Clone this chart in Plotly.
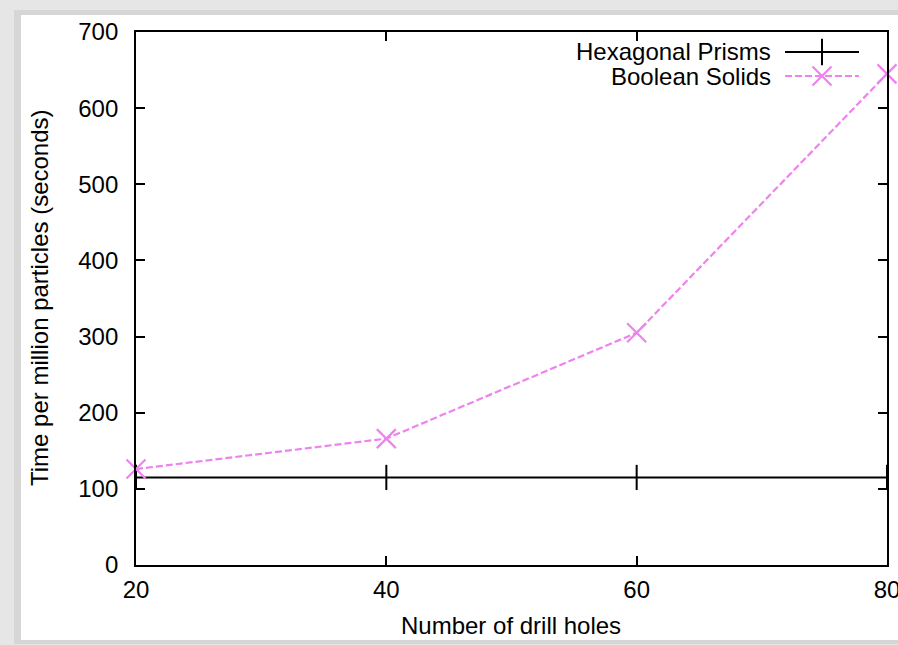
import plotly.graph_objects as go

drill_holes = [20, 40, 60, 80]
hexagonal_prisms = [115, 115, 115, 115]
boolean_solids = [126, 166, 305, 645]
y_ticks = [0, 100, 200, 300, 400, 500, 600, 700]
x_ticks = [20, 40, 60, 80]

W, H = 898, 645
ML, MR, MT, MB = 136, 11, 32, 80
PW, PH = W - ML - MR, H - MT - MB

def px(x):
    return (x - ML) / PW

def py(y):
    return (H - MB - y) / PH

FONT = "Liberation Sans, Arial, Helvetica, sans-serif"
VIOLET = "#ee82ee"
FS = 24

fig = go.Figure()
fig.add_trace(go.Scatter(
    x=drill_holes, y=hexagonal_prisms, mode="lines+markers",
    name="Hexagonal Prisms", cliponaxis=False,
    line=dict(color="black", width=2),
    marker=dict(symbol="line-ns", size=18, line=dict(color="black", width=2)),
))
fig.add_trace(go.Scatter(
    x=drill_holes, y=boolean_solids, mode="lines+markers",
    name="Boolean Solids", cliponaxis=False,
    line=dict(color=VIOLET, width=2.2, dash="7px,3px"),
    marker=dict(symbol="x-thin", size=19, line=dict(color=VIOLET, width=2.2)),
))

# legend samples (gnuplot-style: text left, sample right) on an overlay axis
fig.add_trace(go.Scatter(
    x=[px(785), px(859)], y=[py(52), py(52)], xaxis="x2", yaxis="y2",
    mode="lines", line=dict(color="black", width=2), showlegend=False, hoverinfo="skip"))
fig.add_trace(go.Scatter(
    x=[px(822)], y=[py(52)], xaxis="x2", yaxis="y2", mode="markers",
    marker=dict(symbol="line-ns", size=19, line=dict(color="black", width=2)),
    showlegend=False, hoverinfo="skip"))
fig.add_trace(go.Scatter(
    x=[px(785), px(859)], y=[py(76), py(76)], xaxis="x2", yaxis="y2",
    mode="lines", line=dict(color=VIOLET, width=2.2, dash="7px,3px"), showlegend=False, hoverinfo="skip"))
fig.add_trace(go.Scatter(
    x=[px(822)], y=[py(76)], xaxis="x2", yaxis="y2", mode="markers",
    marker=dict(symbol="x-thin", size=19, line=dict(color=VIOLET, width=2.2)),
    showlegend=False, hoverinfo="skip"))

annotations = [
    dict(text="Hexagonal Prisms", x=px(773), y=py(52), xref="paper", yref="paper",
         xanchor="right", yanchor="middle", showarrow=False, font=dict(size=FS, color="black", family=FONT)),
    dict(text="Boolean Solids", x=px(773), y=py(76), xref="paper", yref="paper",
         xanchor="right", yanchor="middle", showarrow=False, font=dict(size=FS, color="black", family=FONT)),
    dict(text="Number of drill holes", x=px(511), y=py(625), xref="paper", yref="paper",
         xanchor="center", yanchor="middle", showarrow=False, font=dict(size=FS, color="black", family=FONT)),
    dict(text="Time per million particles (seconds)", x=px(39), y=py(298), xref="paper", yref="paper",
         xanchor="center", yanchor="middle", textangle=-90, showarrow=False,
         font=dict(size=FS, color="black", family=FONT)),
]

# window-like frame: grey page with white panel
shapes = [
    dict(type="rect", xref="paper", yref="paper", x0=px(0), x1=px(W + 5), y0=py(0), y1=py(H),
         fillcolor="#e6e6e6", line=dict(width=0), layer="below"),
    dict(type="rect", xref="paper", yref="paper", x0=px(14), x1=px(W + 5), y0=py(10), y1=py(644),
         fillcolor="#d6d6d6", line=dict(width=0), layer="below"),
    dict(type="rect", xref="paper", yref="paper", x0=px(21), x1=px(W + 5), y0=py(15), y1=py(640),
         fillcolor="white", line=dict(width=0), layer="below"),
]

axis_common = dict(
    showgrid=False, zeroline=False, showline=True, linecolor="black", linewidth=1.8,
    mirror="ticks", ticks="inside", ticklen=9, tickwidth=1.5, tickcolor="black",
    tickfont=dict(size=FS, color="black", family=FONT),
    ticklabeloverflow="allow", automargin=False,
)

fig.update_layout(
    width=W, height=H,
    margin=dict(l=ML, r=MR, t=MT, b=MB),
    paper_bgcolor="white", plot_bgcolor="rgba(0,0,0,0)",
    showlegend=False,
    font=dict(family=FONT, color="black"),
    xaxis=dict(range=[20, 80], tickvals=x_ticks, ticktext=[str(v) for v in x_ticks],
               ticklabelstandoff=2, **axis_common),
    yaxis=dict(range=[0, 700], tickvals=y_ticks, ticktext=[str(v) for v in y_ticks],
               ticklabelstandoff=11, **axis_common),
    xaxis2=dict(range=[0, 1], overlaying="x", visible=False, fixedrange=True),
    yaxis2=dict(range=[0, 1], overlaying="y", visible=False, fixedrange=True),
    annotations=annotations,
    shapes=shapes,
)

fig.write_html("out.html", config={"displayModeBar": False},
               post_script="document.body.style.margin='0';document.body.style.overflow='hidden';")
